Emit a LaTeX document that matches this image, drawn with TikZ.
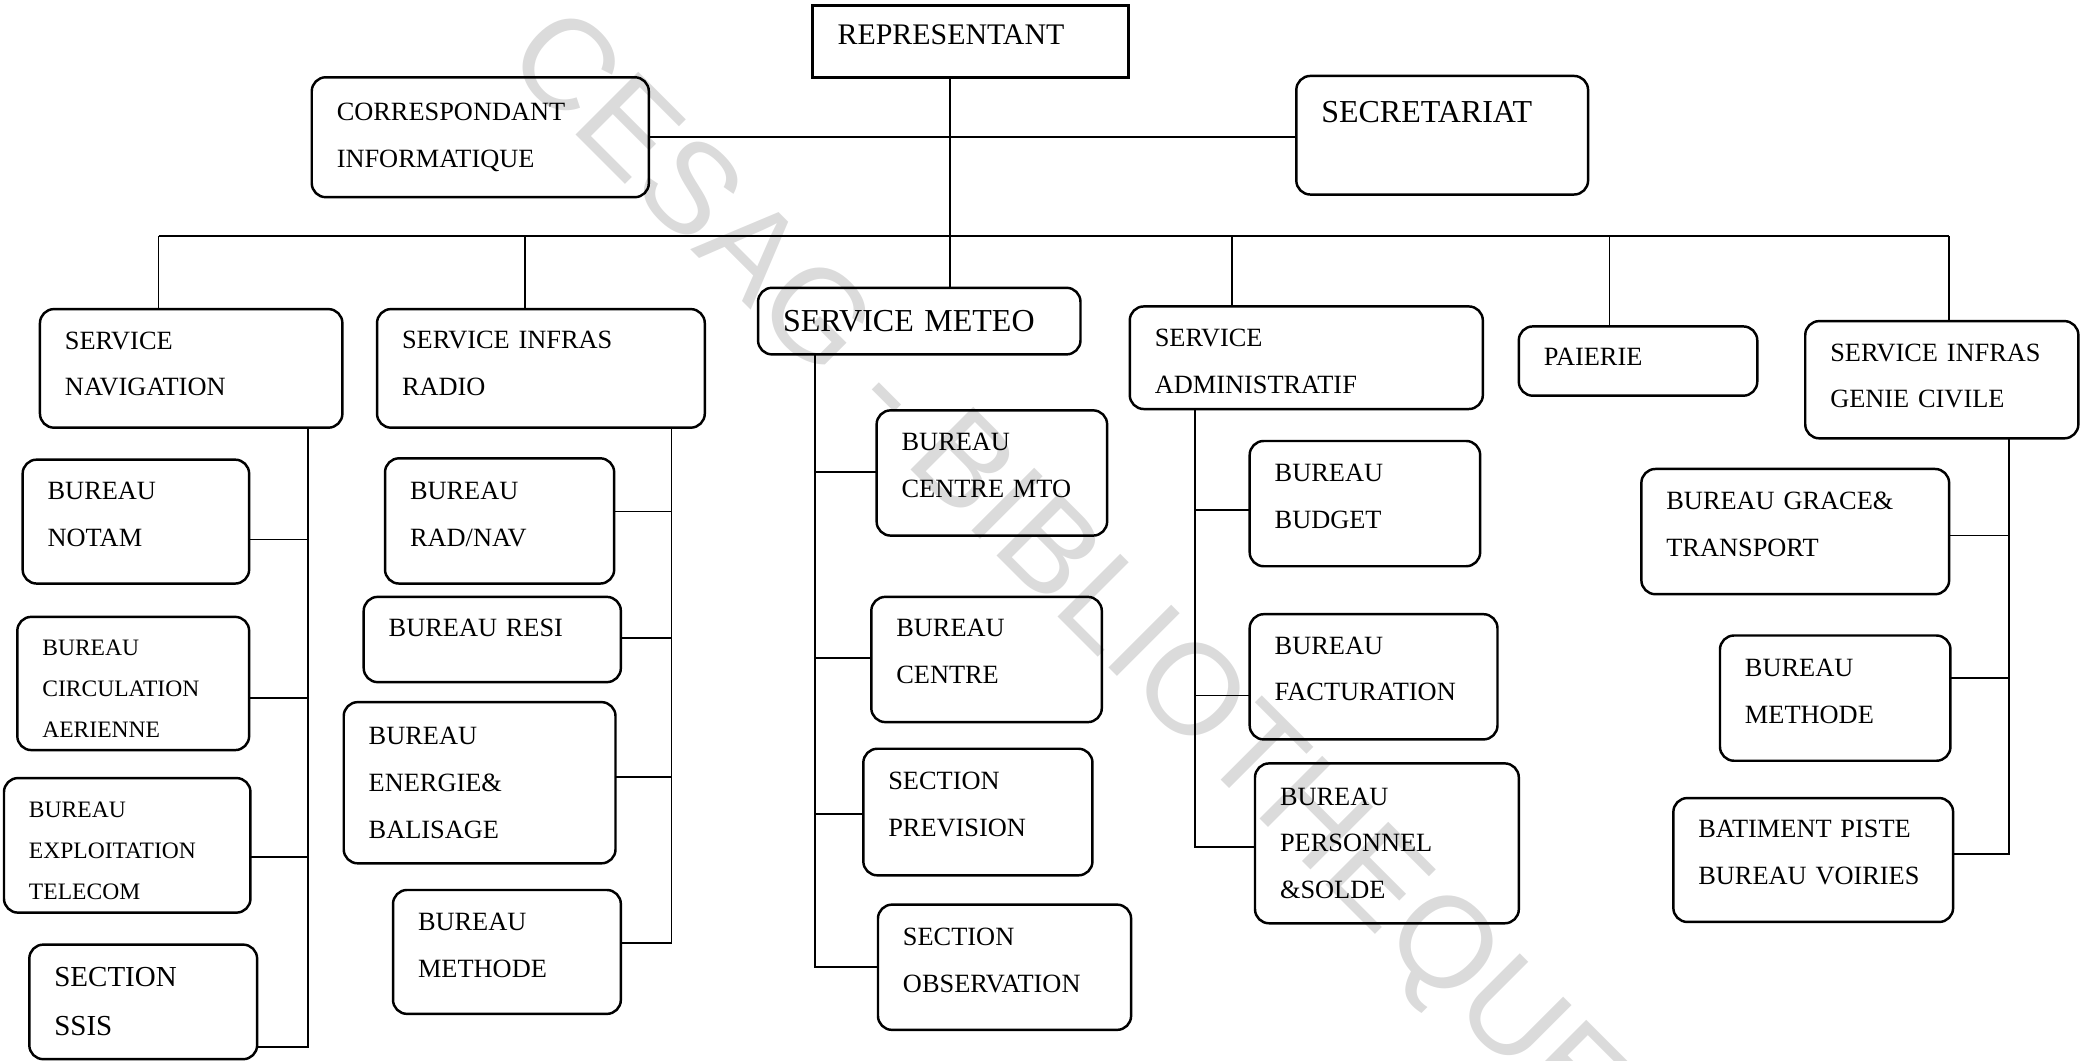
\documentclass[tikz,border=0pt]{standalone}
\usepackage{fontspec}
\setmainfont{Liberation Serif}
\newfontfamily\wmfont{Liberation Sans}
\usepackage{tikz}
\def\u{0.013323cm}
\def\boxpad{0.25cm}
\def\boxlift{0.14cm}
\tikzset{box/.style={draw, rounded corners=0.14cm, line width=0.7pt,
   inner xsep=\boxpad, inner ysep=0pt, outer sep=0pt, align=left,
   anchor=north west, font=\fontsize{7.5}{13.3}\selectfont,
   execute at end node={\rule[-\boxlift]{0pt}{0pt}}},
 lift/.code={\def\boxlift{#1}},
 drop/.style={lift=0pt, execute at begin node={\rule{0pt}{#1}}},
 sharp/.style={rounded corners=0pt},
 bigtext/.style={font=\fontsize{9.1}{13.3}\selectfont},
 smalltext/.style={font=\fontsize{6.7}{11.7}\selectfont},
 widetext/.style={font=\fontsize{8.25}{14}\selectfont},
 link/.style={line width=0.5pt},
 watermark/.style={font=\wmfont\fontsize{36.7}{40}\selectfont, text=gray!28,
   rotate=-45, anchor=base west, inner sep=0pt},
 }
\newcommand{\orgbox}[7][]{%
  \node[box, minimum width={(#5-#3)*\u}, minimum height={(#6-#4)*\u},
        text width={(#5-#3)*\u-2*\boxpad}, #1] (#2) at (#3,#4) {#7};}

\begin{document}
\begin{tikzpicture}[x=0.013323cm, y=-0.013323cm]
        \useasboundingbox (0,0) rectangle (1568,796);
        \node[watermark] (wm) at (377,46) {CESAG - BIBLIOTHEQUE};

        \orgbox[sharp, font=\fontsize{8.5}{13.3}\selectfont]{rep}{610}{4}{847}{58}{REPRESENTANT}
        \orgbox[lift=0pt]{corr}{234}{58}{487}{148}{CORRESPONDANT\\INFORMATIQUE}
        \orgbox[bigtext, lift=0pt]{sec}{973}{57}{1192}{146}{SECRETARIAT\\\mbox{}}

        \orgbox[lift=0.09cm]{nav}{30}{232}{257}{321}{SERVICE\\NAVIGATION}
        \orgbox[lift=0.1cm]{radio}{283}{232}{529}{321}{SERVICE INFRAS\\RADIO}
        \orgbox[bigtext, lift=0pt]{meteo}{569}{216}{811}{266}{SERVICE METEO}
        \orgbox[drop=0.255cm]{admin}{848}{230}{1113}{307}{SERVICE\\ADMINISTRATIF}
        \orgbox[lift=0.08cm]{paie}{1140}{245}{1319}{297}{PAIERIE}
        \orgbox[lift=0.08cm]{genie}{1355}{241}{1560}{329}{SERVICE INFRAS\\GENIE CIVILE}

        \orgbox{notam}{17}{345}{187}{438}{BUREAU\\NOTAM}
        \orgbox[smalltext, drop=0.263cm]{circ}{13}{463}{187}{563}{BUREAU\\CIRCULATION\\AERIENNE}
        \orgbox[smalltext, drop=0.263cm]{telecom}{3}{584}{188}{685}{BUREAU\\EXPLOITATION\\TELECOM}
        \orgbox[widetext, lift=0pt]{ssis}{22}{709}{193}{795}{SECTION\\SSIS}

        \orgbox{radnav}{289}{344}{461}{438}{BUREAU\\RAD/NAV}
        \orgbox[lift=0.24cm]{resi}{273}{448}{466}{512}{BUREAU RESI}
        \orgbox[lift=0pt]{energie}{258}{527}{462}{648}{BUREAU\\ENERGIE\&\\BALISAGE}
        \orgbox{rmethode}{295}{668}{466}{761}{BUREAU\\METHODE}

        \orgbox[lift=0.16cm]{mto}{658}{308}{831}{402}{BUREAU\\CENTRE MTO}
        \orgbox[lift=0.16cm]{centre}{654}{448}{827}{542}{BUREAU\\CENTRE}
        \orgbox[lift=0.16cm]{prevision}{648}{562}{820}{657}{SECTION\\PREVISION}
        \orgbox{observation}{659}{679}{849}{773}{SECTION\\OBSERVATION}

        \orgbox{budget}{938}{331}{1111}{425}{BUREAU\\BUDGET}
        \orgbox[lift=0.16cm]{facturation}{938}{461}{1124}{555}{BUREAU\\FACTURATION}
        \orgbox[lift=0pt]{personnel}{942}{573}{1140}{693}{BUREAU\\PERSONNEL\\\&SOLDE}

        \orgbox{grace}{1232}{352}{1463}{446}{BUREAU GRACE\&\\TRANSPORT}
        \orgbox{gmethode}{1291}{477}{1464}{571}{BUREAU\\METHODE}
        \orgbox[lift=0.16cm]{voiries}{1256}{599}{1466}{692}{BATIMENT PISTE\\BUREAU VOIRIES}

        \coordinate (trunk) at (713,177);
        \foreach \n/\x in {nav/119, radio/394, admin/925, paie/1208, genie/1463}
            \coordinate (d-\n) at (\x,177);
        \foreach \n/\x in {nav/231, radio/504, meteo/612, admin/897, genie/1508}
            \coordinate (sp-\n) at (\x,0);

        \draw[link] (trunk |- rep.south) -- (trunk |- meteo.north);
        \draw[link] (corr.east) -- (corr.east -| sec.west);
        \draw[link] (d-nav) -- (d-genie);
        \foreach \n in {nav, radio, admin, paie, genie}
            \draw[link] (d-\n) -- (d-\n |- \n.north);

        \foreach \s/\c/\side/\dy in {nav/notam/east/-13.5, nav/circ/east/-11,
            nav/telecom/east/-8.5, nav/ssis/east/-34,
            radio/radnav/east/7, radio/resi/east/1, radio/energie/east/4.5,
            radio/rmethode/east/6.5,
            meteo/mto/west/1, meteo/centre/west/1, meteo/prevision/west/-1.5,
            meteo/observation/west/0,
            admin/budget/west/-5, admin/facturation/west/-14, admin/personnel/west/-3,
            genie/grace/east/-3, genie/gmethode/east/15, genie/voiries/east/4.5}
            \draw[link] (sp-\s |- \s.south) |- ([yshift=\dy*\u]\c.\side);
\end{tikzpicture}
\end{document}
